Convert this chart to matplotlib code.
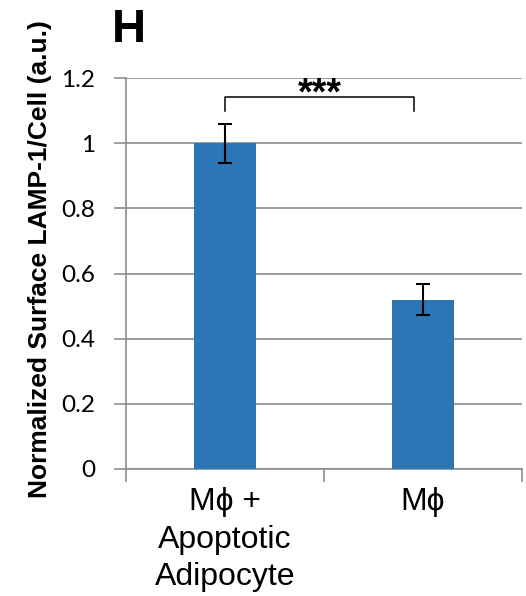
import numpy as np
import matplotlib.pyplot as plt

# data
groups = ['M\u03d5 +\nApoptotic\nAdipocyte', 'M\u03d5']
values = [1.0, 0.52]
errors = [0.06, 0.047]
yticks = [0, 0.2, 0.4, 0.6, 0.8, 1, 1.2]
ytick_labels = ['0', '0.2', '0.4', '0.6', '0.8', '1', '1.2']
sig_text = '***'
sig_y = 1.142
sig_leg = 0.042

BAR_COLOR = '#2E75B6'
GRID = '#8c8c8c'

fig = plt.figure(figsize=(5.26, 5.96), dpi=100)
ax = fig.add_axes([0.2395, 0.2131, 0.7529, 0.656])

x = np.arange(len(values))
ax.bar(x, values, width=0.31, color=BAR_COLOR, zorder=3)
ax.errorbar(x, values, yerr=errors, fmt='none', ecolor='black',
            elinewidth=1.5, capsize=5, capthick=1.5, zorder=4)

ax.set_xlim(-0.5, len(values) - 0.5)
ax.set_ylim(0, 1.2)

# gridlines
ax.set_yticks(yticks)
ax.set_yticklabels(ytick_labels, fontsize=17.5, family=['Lato', 'DejaVu Sans'])
ax.yaxis.grid(True, color=GRID, linewidth=1.2, zorder=0)
ax.tick_params(axis='y', length=9, width=1.2, color=GRID, pad=13)

# category labels at centres, tick marks at category borders
ax.set_xticks(x)
ax.set_xticklabels(groups, fontsize=23, family=['Liberation Sans', 'DejaVu Sans'],
                   linespacing=1.33)
ax.set_xticks(np.arange(len(values) + 1) - 0.5, minor=True)
ax.tick_params(axis='x', which='major', length=0, pad=13)
ax.tick_params(axis='x', which='minor', length=9, width=1.2, color=GRID)

for s in ['top', 'right']:
    ax.spines[s].set_visible(False)
for s in ['left', 'bottom']:
    ax.spines[s].set_color(GRID)
    ax.spines[s].set_linewidth(1.2)

# significance bracket
x1, x2 = x[0], x[1] - 0.045
ax.plot([x1, x1, x2, x2], [sig_y - sig_leg, sig_y, sig_y, sig_y - sig_leg],
        color='black', linewidth=1.1, zorder=5, clip_on=False)
ax.text((x1 + x2) / 2, sig_y - 0.024, sig_text, ha='center', va='baseline',
        fontsize=27, fontweight='bold', family='Liberation Sans')

fig.text(40 / 526, 1 - 259 / 596, 'Normalized Surface LAMP-1/Cell (a.u.)',
         rotation=90, ha='center', va='center', fontsize=19,
         fontweight='bold', family='Liberation Sans')
fig.text(112 / 526, 1 - 30 / 596, 'H', ha='left', va='center',
         fontsize=34, fontweight='bold', family='Liberation Sans')

fig.savefig('out.png', dpi=100)
